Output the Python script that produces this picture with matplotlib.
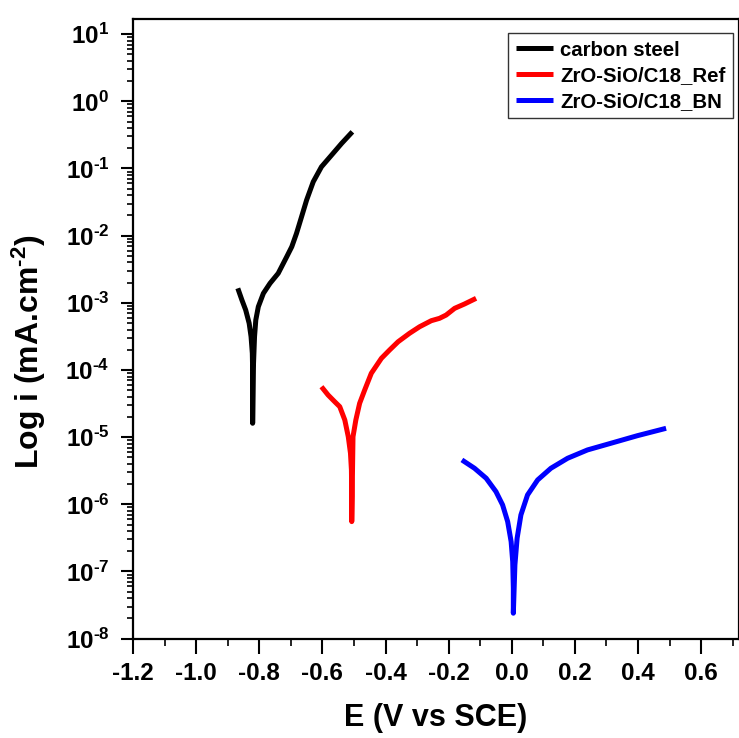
import numpy as np
import matplotlib
matplotlib.use('Agg')
import matplotlib.pyplot as plt
from matplotlib.ticker import MultipleLocator, LogLocator, FuncFormatter, NullFormatter

plt.rcParams['font.family'] = ['Liberation Sans', 'DejaVu Sans']
plt.rcParams['font.weight'] = 'bold'
plt.rcParams['mathtext.fontset'] = 'custom'
plt.rcParams['mathtext.rm'] = 'Liberation Sans:bold'
plt.rcParams['mathtext.bf'] = 'Liberation Sans:bold'
plt.rcParams['mathtext.it'] = 'Liberation Sans:bold'
plt.rcParams['mathtext.default'] = 'bf'

HY = '\u2010'  # hyphen instead of math minus

# carbon steel (E in V vs SCE, log10 of i in mA/cm2)
cs_E = [-0.868, -0.855, -0.843, -0.832, -0.826, -0.822, -0.821, -0.821, -0.821,
        -0.819, -0.815, -0.811, -0.803, -0.787, -0.766, -0.740, -0.713,
        -0.697, -0.682, -0.666, -0.650, -0.629, -0.603, -0.571, -0.539, -0.505]
cs_logi = [-2.784, -2.958, -3.107, -3.305, -3.504, -3.751, -4.000, -4.372, -4.793,
           -4.000, -3.504, -3.256, -3.058, -2.859, -2.710, -2.561, -2.314,
           -2.165, -1.966, -1.719, -1.470, -1.198, -0.975, -0.801, -0.626, -0.454]

# ZrO-SiO/C18_Ref
ref_E = [-0.603, -0.582, -0.561, -0.545, -0.529, -0.518, -0.511, -0.508, -0.507, -0.507,
         -0.503, -0.494, -0.482, -0.466, -0.445, -0.413, -0.387, -0.360, -0.324,
         -0.292, -0.255, -0.229, -0.208, -0.181, -0.150, -0.113]
ref_logi = [-4.249, -4.372, -4.472, -4.546, -4.744, -4.993, -5.240, -5.488, -5.885, -6.257,
            -4.993, -4.744, -4.496, -4.298, -4.049, -3.826, -3.702, -3.579, -3.454,
            -3.356, -3.266, -3.231, -3.182, -3.082, -3.018, -2.933]

# ZrO-SiO/C18_BN
bn_E = [-0.158, -0.118, -0.081, -0.050, -0.029, -0.013, -0.002, 0.003, 0.005, 0.005,
        0.010, 0.017, 0.029, 0.050, 0.082, 0.124, 0.177, 0.240, 0.314, 0.398, 0.489]
bn_logi = [-5.339, -5.463, -5.612, -5.811, -6.009, -6.257, -6.555, -6.853, -7.249, -7.621,
           -6.902, -6.504, -6.158, -5.860, -5.637, -5.463, -5.314, -5.190, -5.091,
           -4.978, -4.868]

labels = ['carbon steel', 'ZrO-SiO/C18_Ref', 'ZrO-SiO/C18_BN']
colors = ['black', 'red', 'blue']

fig = plt.figure(figsize=(7.39, 7.38), dpi=100)
ax = fig.add_axes([0.18, 0.1346, 0.82, 0.8394])

series = [(cs_E, cs_logi), (ref_E, ref_logi), (bn_E, bn_logi)]
for (E, li), lab, c in zip(series, labels, colors):
    ax.plot(E, 10 ** np.array(li), color=c, lw=3.6, label=lab,
            solid_capstyle='butt', solid_joinstyle='round')

ax.set_yscale('log')
ax.set_xlim(-1.2, 0.72)
ax.set_ylim(1e-8, 10 ** 1.223)


def dec_label(v, p):
    n = str(int(round(np.log10(v)))).replace('-', HY)
    return '$\\mathbf{10^{' + n + '}}$'


ax.xaxis.set_major_locator(MultipleLocator(0.2))
ax.xaxis.set_minor_locator(MultipleLocator(0.1))
ax.xaxis.set_major_formatter(FuncFormatter(lambda v, p: f'{v:.1f}'))
ax.yaxis.set_major_locator(LogLocator(base=10, numticks=20))
ax.yaxis.set_minor_locator(LogLocator(base=10, subs=np.arange(2, 10), numticks=20))
ax.yaxis.set_minor_formatter(NullFormatter())
ax.yaxis.set_major_formatter(FuncFormatter(dec_label))

ax.tick_params(which='major', direction='out', width=1.5, labelsize=17.5)
ax.tick_params(which='minor', direction='out', width=1.2)
ax.tick_params(axis='x', which='major', length=10.5, pad=6)
ax.tick_params(axis='x', which='minor', length=5)
ax.tick_params(axis='y', which='major', length=9, pad=8)
ax.tick_params(axis='y', which='minor', length=4.5)
for s in ax.spines.values():
    s.set_linewidth(1.6)
for lbl in ax.get_xticklabels() + ax.get_yticklabels():
    lbl.set_fontweight('bold')

ax.set_xlabel('E (V vs SCE)', fontsize=22, fontweight='bold', labelpad=13)
ax.set_ylabel('Log i (mA.cm$^{' + HY + '2}$)', fontsize=23, fontweight='bold')
ax.yaxis.set_label_coords(-0.14, 0.464)

leg = ax.legend(loc='upper right', bbox_to_anchor=(0.99, 0.977), fontsize=14.7,
                frameon=True, fancybox=False, edgecolor='black', handlelength=1.85,
                borderpad=0.35, labelspacing=0.33, handletextpad=0.35,
                borderaxespad=0)
leg.get_frame().set_linewidth(1.0)
for t in leg.get_texts():
    t.set_fontweight('bold')

plt.savefig('out.png', dpi=100)
